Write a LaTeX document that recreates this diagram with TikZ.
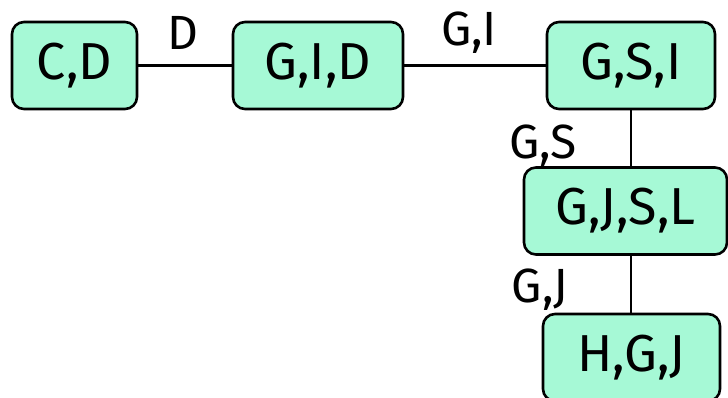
\documentclass[tikz,border=0pt]{standalone}
\usepackage{fontspec}
\setmainfont{Fira Sans}
\definecolor{boxfill}{HTML}{A6F9D6}
\begin{document}
\begin{tikzpicture}[x=1pt,y=-1pt,
  clq/.style={draw=black,line width=2.6pt,fill=boxfill,rounded corners=12pt,
    minimum height=87pt,inner sep=0pt,font=\fontsize{52}{54}\selectfont},
  sep/.style={font=\fontsize{48}{50}\selectfont,inner sep=0pt},
  lnk/.style={line width=2.6pt}]
\useasboundingbox (0,0) rectangle (728,398);
\node[clq,minimum width=125pt] (cd) at (74.5,65.5) {C,D};
\node[clq,minimum width=170pt] (gid) at (318,65.5) {G,I,D};
\node[clq,minimum width=168pt] (gsi) at (631,65.5) {G,S,I};
\node[clq,minimum width=203pt] (gjsl) at (625.5,211) {G,J,S,L};
\node[clq,minimum width=177pt] (hgj) at (631.5,357.5) {H,G,J};
\draw[lnk] (cd.east) -- (gid.west);
\draw[lnk] (gid.east) -- (gsi.west);
\draw[lnk] (gsi.south) -- (gsi.south |- gjsl.north);
\draw[lnk] (gsi.south |- gjsl.south) -- (gsi.south |- hgj.north);
\node[sep] (l1) at (183,33) {D};
\node[sep] (l2) at (469,33) {G,I};
\node[sep] (l3) at (543,146) {G,S};
\node[sep] (l4) at (540,290) {G,J};
\end{tikzpicture}
\end{document}
